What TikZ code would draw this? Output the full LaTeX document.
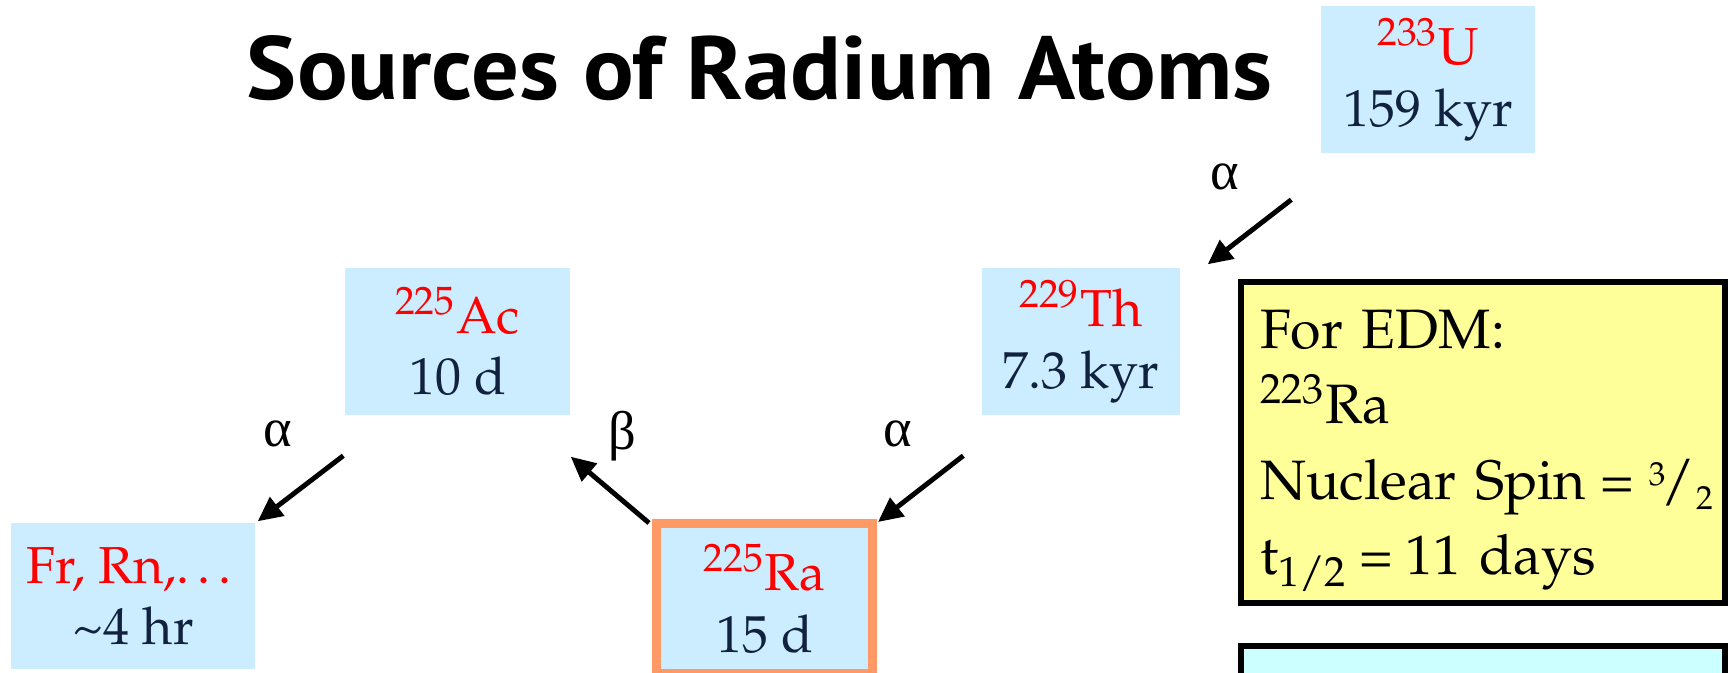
\documentclass[tikz,border=0pt]{standalone}
\usepackage{fontspec}
\usepackage[T1]{fontenc}
\usepackage{mathpazo}
\usepackage{xcolor}
\newfontfamily\titlefont{PT Sans}
\newfontfamily\greekfont{Liberation Serif}
\usetikzlibrary{
    arrows.meta
}
\definecolor{isoblue}{HTML}{CCECFF}
\definecolor{raorange}{HTML}{FF9966}
\definecolor{edmyellow}{HTML}{FFFF99}
\definecolor{edmcyan}{HTML}{CCFFFF}
\definecolor{lifenavy}{RGB}{17,34,64}
\newcommand{\spinfrac}{\raisebox{4pt}{\fontsize{9.5}{9.5}\selectfont 3}\kern1.7pt\makebox[4pt][c]{/}\kern3pt\raisebox{-3pt}{\fontsize{9.5}{9.5}\selectfont 2}}
\tikzset{
  iso/.style   = {fill=isoblue, minimum height=14.7mm, inner sep=0pt,
                  align=center, text=lifenavy,
                  font=\fontsize{14.8}{17.6}\selectfont},
  arr/.style   = {-{Triangle[length=7pt,width=6.5pt]}, line width=1.4pt, black}
}

\begin{document}
\begin{tikzpicture}[
    x=0.1mm, y=-0.1mm,
    lab/.style={font=\greekfont\fontsize{15.5}{17.6}\selectfont},
    note/.style={draw, line width=0.6mm, minimum width=48.4mm}
  ]
    \useasboundingbox (0,0) rectangle (1731,673);
    \node[anchor=base, font=\titlefont\bfseries\fontsize{25.5}{30}\selectfont] (title) at (759.5,100) {\scalebox{1.055}[1]{Sources of Radium Atoms}};

    \node[iso, minimum width=21.4mm] (u)  at (1428,79.5)  {\textcolor{red}{\textsuperscript{233}U}\\159 kyr};
    \node[iso, minimum width=22.5mm] (ac) at (457.5,341.5) {\textcolor{red}{\textsuperscript{225}Ac}\\10 d};
    \node[iso, minimum width=19.8mm] (th) at (1081,341.5)  {\textcolor{red}{\textsuperscript{229}Th}\\7.3 kyr};
    \node[iso, minimum width=24.4mm, minimum height=14.6mm] (fr) at (133,596) {\textcolor{red}{Fr, Rn,\textellipsis}\\\textasciitilde4 hr};
    \node[iso, draw=raorange, line width=0.9mm, minimum width=21.6mm, minimum height=15mm] (ra) at (764.5,598.5) {\textcolor{red}{\textsuperscript{225}Ra}\\15 d};

    \node[note, fill=edmyellow, minimum height=31.7mm, text width=44.6mm, inner xsep=1.9mm,
          align=left, font=\fontsize{15.8}{21.5}\selectfont] (edm) at (1483,442.5)
          {\rule{0pt}{15.5pt}For EDM:\\\textsuperscript{223}Ra\\\mbox{Nuclear Spin\hspace{0.25em}=\hspace{0.27em}\spinfrac}\\t\textsubscript{1/2}\hspace{0.22em}=\hspace{0.22em}11 days};
    \node[note, fill=edmcyan, minimum height=10mm] (more) at (1483,696) {};

    \draw[arr]([shift={(-29,46)}]u.south west)--([shift={(27,-3)}]th.north east);
    \draw[arr]([shift={(-18,40)}]th.south west)--([shift={(1,3)}]ra.north east);
    \draw[arr]([shift={(-3,4)}]ra.north west)--([shift={(0,41)}]ac.south east);
    \draw[arr]([shift={(-1,40)}]ac.south west)--([shift={(2,-1)}]fr.north east);

    \node[lab] (dec1) at (1225,177) {α};
    \node[lab] (dec2) at (898,434)  {α};
    \node[lab] (dec3) at (622,436)  {β};
    \node[lab] (dec4) at (278,434)  {α};
  \end{tikzpicture}
\end{document}
